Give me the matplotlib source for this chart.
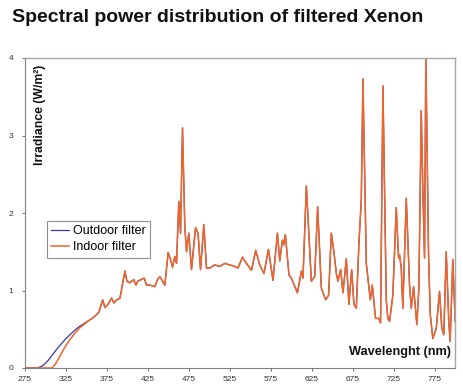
import matplotlib
matplotlib.use("Agg")
import matplotlib.pyplot as plt

# ---- data ----
outdoor_uv_nm = [275, 290, 295, 300, 305, 310, 315, 320, 325, 330, 336, 342, 348, 354]
outdoor_uv_val = [0, 0, 0.02, 0.06, 0.12, 0.19, 0.26, 0.32, 0.38, 0.43, 0.49, 0.54, 0.58, 0.62]

indoor_uv_nm = [275, 308, 312, 316, 320, 325, 330, 336, 342, 348, 354]
indoor_uv_val = [0, 0, 0.05, 0.12, 0.20, 0.29, 0.37, 0.45, 0.52, 0.57, 0.62]

common_nm = [357, 361.6, 365.2, 369.8, 372.6, 376.2, 380.7, 383.5, 387.2, 390.9,
             397, 399.4, 403, 407.9, 410.4, 412.8, 420.5, 423.4, 427.4, 433.5,
             436.8, 439.6, 442.9, 445.7, 449.8, 452.7, 455.1, 457.9, 460, 462.8,
             464.9, 467.3, 470.1, 472.2, 475, 478.3, 483.2, 486.3, 489.3, 493.3,
             496.6, 500.6, 506.7, 512.8, 518.9, 525, 531.1, 535.1, 540.5, 545.4,
             551.5, 556.7, 561.6, 566.8, 572.2, 577.8, 583.2, 586, 589.3, 590.9,
             592.9, 597.3, 600.2, 607.6, 612.4, 614.4, 618.5, 624.6, 628.7, 632.3,
             636.8, 642.1, 645.7, 649, 651.8, 655.1, 657.1, 660.4, 663.2, 667.3,
             670.5, 673.8, 676.6, 679.5, 682.7, 685.6, 687.6, 691.7, 696.6, 699,
             703, 707.1, 709.1, 712, 716.1, 718, 720.1, 724.1, 728.3, 731.1,
             732.3, 734.4, 736.3, 740.5, 744.5, 746.6, 749.4, 753.4, 755.9, 758.8,
             760.7, 762.8, 764.4, 767.7, 769.8, 772.9, 777.1, 781.1, 783.9, 786.3,
             789.3, 792.4, 794.1, 797.3, 800.2]
common_val = [0.64, 0.68, 0.72, 0.88, 0.78, 0.82, 0.90, 0.84, 0.88, 0.90,
              1.25, 1.12, 1.10, 1.14, 1.07, 1.12, 1.16, 1.07, 1.07, 1.05,
              1.14, 1.18, 1.12, 1.07, 1.49, 1.40, 1.30, 1.44, 1.35, 2.15,
              1.74, 3.10, 1.83, 1.50, 1.74, 1.27, 1.81, 1.74, 1.27, 1.85,
              1.29, 1.29, 1.33, 1.31, 1.35, 1.33, 1.31, 1.29, 1.43, 1.35,
              1.26, 1.52, 1.33, 1.22, 1.53, 1.13, 1.74, 1.38, 1.65, 1.59,
              1.72, 1.20, 1.16, 0.97, 1.25, 1.16, 2.35, 1.12, 1.18, 2.08,
              1.03, 0.88, 0.94, 1.74, 1.53, 1.22, 1.12, 1.27, 0.97, 1.41,
              0.82, 1.27, 0.82, 0.77, 1.61, 2.17, 3.73, 1.35, 0.88, 1.07,
              0.64, 0.64, 0.58, 3.64, 0.88, 0.64, 0.60, 0.94, 2.07, 1.42,
              1.46, 1.29, 0.77, 2.19, 1.07, 0.77, 1.05, 0.56, 1.03, 3.32,
              2.32, 1.42, 4.03, 1.46, 0.69, 0.38, 0.51, 0.99, 0.51, 0.43,
              1.50, 0.60, 0.34, 1.40, 0.60]

outdoor_nm = outdoor_uv_nm + common_nm
outdoor_val = outdoor_uv_val + common_val
indoor_nm = indoor_uv_nm + common_nm
indoor_val = indoor_uv_val + common_val

x_ticks = [275, 325, 375, 425, 475, 525, 575, 625, 675, 725, 775]
y_ticks = [0, 1, 2, 3, 4]

title = "Spectral power distribution of filtered Xenon"
series_labels = ["Outdoor filter", "Indoor filter"]

# ---- figure ----
plt.rcParams['font.family'] = ['Liberation Sans', 'DejaVu Sans']
W, H = 463, 389
fig = plt.figure(figsize=(W / 100, H / 100), dpi=100)
fig.patch.set_facecolor('white')

ax_l, ax_r, ax_t, ax_b = 25, 455, 58, 368
ax = fig.add_axes([ax_l / W, 1 - ax_b / H, (ax_r - ax_l) / W, (ax_b - ax_t) / H])

blue = '#3f3a9e'
orange = '#f0652a'
ax.plot(outdoor_nm, outdoor_val, color=blue, lw=0.9, label=series_labels[0])
ax.plot(indoor_nm, indoor_val, color=orange, lw=1.1, label=series_labels[1])

ax.set_xlim(275, 800)
ax.set_ylim(0, 4)
ax.set_xticks(x_ticks)
ax.set_yticks(y_ticks)
ax.tick_params(axis='both', labelsize=6, colors='#555555', labelcolor='#333333',
               length=2.5, width=0.6, direction='out')
ax.tick_params(axis='x', pad=3)
ax.tick_params(axis='y', pad=6)

for s in ['left', 'bottom']:
    ax.spines[s].set_color('#808080')
    ax.spines[s].set_linewidth(0.8)
for s in ['top', 'right']:
    ax.spines[s].set_color('#9fa9a9')
    ax.spines[s].set_linewidth(1.0)

fig.text(12 / W, 1 - 18 / H, title, fontsize=14, fontweight='bold',
         ha='left', va='center', color='#111111')

ax.text(0.036, 0.977, "Irradiance (W/m²)", transform=ax.transAxes, rotation=90,
        ha='center', va='top', fontsize=8.8, fontweight='bold', color='#111111')
ax.text(0.991, 0.052, "Wavelenght (nm)", transform=ax.transAxes,
        ha='right', va='center', fontsize=9.2, fontweight='bold', color='#111111')

leg = ax.legend(loc='upper left', bbox_to_anchor=(0.051, 0.474), borderaxespad=0,
                fontsize=9, handlelength=1.45, handletextpad=0.3, labelspacing=0.3,
                borderpad=0.35, fancybox=False, framealpha=1, edgecolor='#909090')
leg.get_frame().set_linewidth(0.8)

fig.savefig('out.png', dpi=100)
